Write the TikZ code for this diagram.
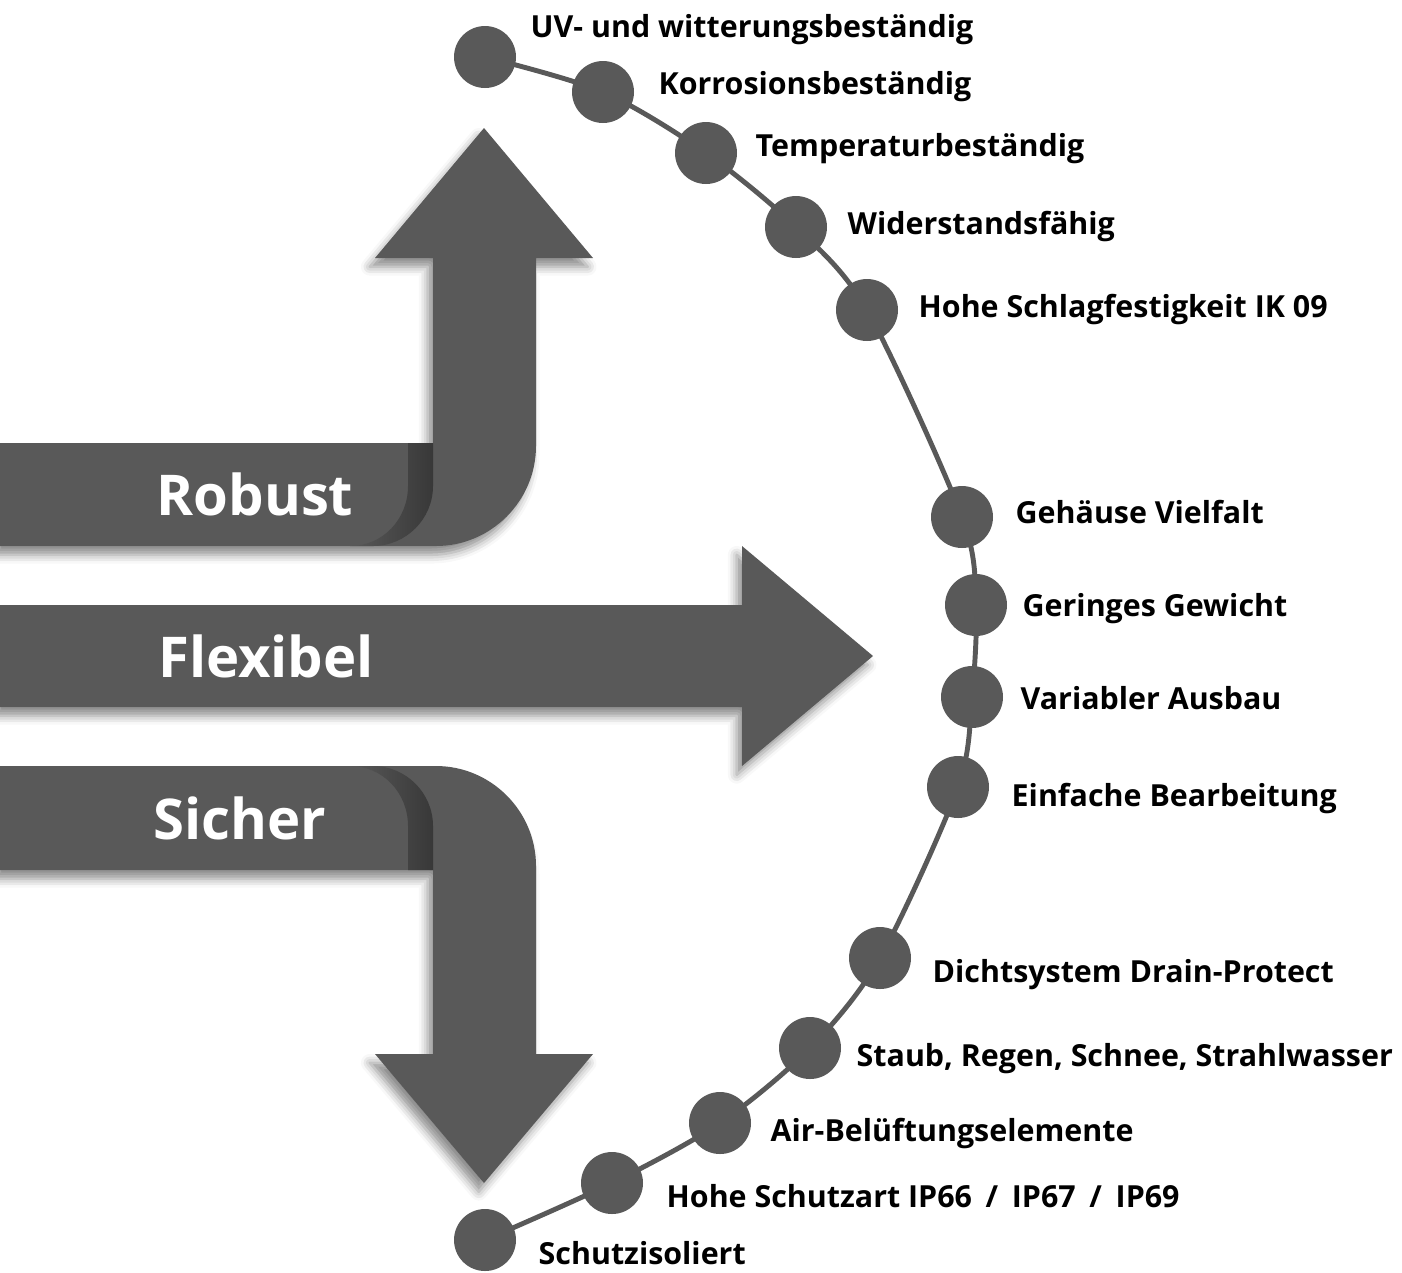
\documentclass[tikz,border=0pt]{standalone}
\usepackage{fontspec}
\setsansfont{Open Sans}
\usepackage{tikz}
\usetikzlibrary{positioning,shadows.blur,backgrounds}
\definecolor{BandGray}{HTML}{595959}
\definecolor{FoldGray}{HTML}{383838}

\begin{document}
\begin{tikzpicture}[
        x=0.02cm, y=-0.02cm,
        band/.style={
            fill=BandGray,
            blur shadow={shadow xshift=-3pt, shadow yshift=-5pt,
                shadow blur radius=5pt, shadow opacity=45}
        },
        fold/.style={left color=BandGray, right color=FoldGray},
        dot/.style={circle, fill=BandGray, minimum size=1.24cm, inner sep=0pt},
        link/.style={BandGray, line width=2.8pt},
        title/.style={
            font=\sffamily\bfseries\fontsize{32}{38}\selectfont,
            text=white,
            inner sep=0pt
        },
        item/.style={
            font=\sffamily\bfseries\fontsize{17.3}{20}\selectfont,
            text height=0.95em,
            text depth=0.25em,
            inner sep=0pt
        }
    ]
        \useasboundingbox (0,0) rectangle (1402,1272);

        % Robust
        \fill[band] (0,443) -- (433,443) -- (433,258) -- (375,258) -- (484,128)
            -- (593,258) -- (536,258) -- (536,446)
            .. controls (536,501) and (491,546) .. (436,546) -- (0,546) -- cycle;
        \shade[fold] (408,443) -- (433,443) -- (433,486)
            .. controls (433,519) and (406,546) .. (373,546) -- (350,546)
            .. controls (383,546) and (408,519) .. (408,486) -- cycle;

        % Flexibel
        \fill[band] (0,605) -- (742,605) -- (742,546) -- (873,656)
            -- (742,766) -- (742,707) -- (0,707) -- cycle;

        % Sicher
        \fill[band] (0,766) -- (436,766)
            .. controls (491,766) and (536,811) .. (536,866)
            -- (536,1054) -- (593,1054) -- (484,1183) -- (375,1054)
            -- (433,1054) -- (433,870) -- (0,870) -- cycle;
        \shade[fold] (350,766) -- (373,766)
            .. controls (406,766) and (433,793) .. (433,826) -- (433,870)
            -- (408,870) -- (408,826)
            .. controls (408,793) and (383,766) .. (350,766) -- cycle;

        \node[title] (robust) at (255,494) {Robust};
        \node[title] (flex) at (266,656) {Flexibel};
        \node[title] (sicher) at (240,818) {Sicher};

        % Punkte
        \foreach \i/\x/\y in {1/485/57, 2/603/92, 3/706/153, 4/796/227,
                5/867/310, 6/962/517, 7/976/605, 8/972/697, 9/958/787,
                10/880/958, 11/810/1048, 12/720/1123, 13/612/1183, 14/485/1240}
            \node[dot] (c\i) at (\x,\y) {};

        \begin{scope}[on background layer]
            \draw[link] plot[smooth] coordinates {(c1.center) (c2.center)
                (c3.center) (c4.center) (c5.center) (c6.center) (c7.center)
                (c8.center) (c9.center) (c10.center) (c11.center)
                (c12.center) (c13.center) (c14.center)};
        \end{scope}

        \node[item, right=0.28cm of c1, yshift=0.52cm] (uv) {UV- und witterungsbeständig};
        \node[item, right=0.48cm of c2, yshift=0.08cm] (korr) {Korrosionsbeständig};
        \node[item, right=0.36cm of c3, yshift=0.06cm] (temp) {Temperaturbeständig};
        \node[item, right=0.40cm of c4, yshift=-0.02cm] (wid) {Widerstandsfähig};
        \node[item, right=0.40cm of c5, yshift=-0.02cm] (schlag) {Hohe Schlagfestigkeit IK 09};
        \node[item, right=0.44cm of c6, yshift=0.00cm] (geh) {Gehäuse Vielfalt};
        \node[item, right=0.30cm of c7, yshift=-0.10cm] (gew) {Geringes Gewicht};
        \node[item, right=0.34cm of c8, yshift=-0.12cm] (ausbau) {Variabler Ausbau};
        \node[item, right=0.44cm of c9, yshift=-0.26cm] (bearb) {Einfache Bearbeitung};
        \node[item, right=0.42cm of c10, yshift=-0.36cm] (drain) {Dichtsystem Drain-Protect};
        \node[item, right=0.30cm of c11, yshift=-0.24cm] (staub) {Staub, Regen, Schnee, Strahlwasser};
        \node[item, right=0.38cm of c12, yshift=-0.24cm] (air) {Air-Belüftungselemente};
        \node[item, right=0.46cm of c13, yshift=-0.36cm] (ip) {Hohe Schutzart IP66\hspace{0.45em}/\hspace{0.45em}IP67\hspace{0.45em}/\hspace{0.45em}IP69};
        \node[item, right=0.44cm of c14, yshift=-0.36cm] (iso) {Schutzisoliert};
    \end{tikzpicture}
\end{document}
